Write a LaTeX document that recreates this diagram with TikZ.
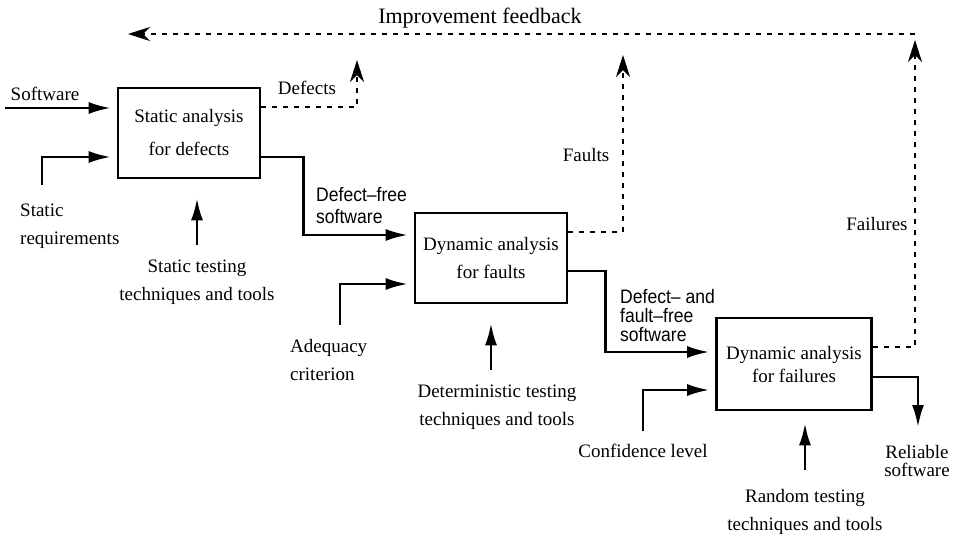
\documentclass[tikz,border=0pt]{standalone}
\usepackage{fontspec}
\setmainfont{Liberation Serif}
\newfontfamily\lblsans[FakeStretch=0.9]{Liberation Sans}
\usetikzlibrary{arrows.meta}
\tikzset{
    every node/.style={inner sep=0pt, font=\fontsize{19}{28}\selectfont}
}
\tikzset{
    proc/.style={draw, line width=2.6pt, align=center},
    lbl/.style={align=left, anchor=west},
    mid/.style={align=center},
    small/.style={font=\lblsans\fontsize{19.5}{22}\selectfont}
}
\tikzset{
    flow/.style={line width=2.6pt, -{Latex[length=22pt,width=12pt]}, shorten >=6pt},
    fb/.style={line width=2.2pt, dash pattern=on 5pt off 6pt,
        -{Stealth[length=22pt,width=14pt,inset=7pt]}}
}

\begin{document}
\begin{tikzpicture}[x=1pt, y=-1pt]
  \useasboundingbox (0,0) rectangle (959,540);
  \node (t) [font=\fontsize{22}{26}\selectfont] at (480,18) {Improvement feedback};
  \node (b1) [proc, minimum width=142pt, minimum height=90pt] at (189,133)
      {Static analysis\\[5pt]for defects};
  \node (b2) [proc, minimum width=152pt, minimum height=90pt] at (491,258)
      {Dynamic analysis\\for faults};
  \node (b3) [proc, minimum width=155pt, minimum height=92pt] at (794,364)
      {Dynamic analysis\\[-5pt]for failures};

  \node (l1) at (45,94) {Software};
  \node (l2) [lbl] at (20,226) {Static\\requirements};
  \node (l3) [mid] at (197,282) {Static testing\\techniques and tools};
  \node (l4) [lbl, small] at (316,206) {Defect\textendash free\\software};
  \node (l5) [lbl] at (290,360) {Adequacy\\criterion};
  \node (l6) [mid] at (497,407) {Deterministic testing\\techniques and tools};
  \node (l7) [lbl, font=\lblsans\fontsize{19.5}{19}\selectfont] at (620,316)
      {Defect\textendash{} and\\fault\textendash free\\software};
  \node (l8) at (643,451) {Confidence level};
  \node (l9) [mid] at (805,512) {Random testing\\techniques and tools};
  \node (l10) [mid, font=\fontsize{19}{18}\selectfont] at (917,461) {Reliable\\software};
  \node (l11) at (307,88) {Defects};
  \node (l12) at (586,155) {Faults};
  \node (l13) at (877,224) {Failures};

  \coordinate (sw) at (5,108);
  \coordinate (sr) at (42,185);
  \coordinate (st) at (197,245);
  \coordinate (aq) at (340,325);
  \coordinate (dt) at (491,370);
  \coordinate (cf) at (643,431);
  \coordinate (rt) at (805,470);
  \coordinate (rs) at (918,427);
  \coordinate (fbR) at (915,34);
  \coordinate (fbL) at (128,34);
  \coordinate (dTop) at (357,60);
  \coordinate (fTop) at (623,55);
  \coordinate (xTop) at (915,40);

  \draw[flow] (sw) -- (sw -| b1.west);
  \draw[flow] (sr) |- ([yshift=-24pt]b1.west);
  \draw[flow, shorten >=19pt] (st) -- (st |- b1.south);
  \draw[flow] ([yshift=-24pt]b1.east) -- ++(42,0) |- ([yshift=23pt]b2.west);
  \draw[flow] (aq) |- ([yshift=-26pt]b2.west);
  \draw[flow, shorten >=19pt] (dt) -- (dt |- b2.south);
  \draw[flow] ([yshift=-13pt]b2.east) -- ++(37,0) |- ([yshift=12pt]b3.west);
  \draw[flow] (cf) |- ([yshift=-26pt]b3.west);
  \draw[flow, shorten >=12pt] (rt) -- (rt |- b3.south);
  \draw[flow, shorten >=0pt] ([yshift=-13pt]b3.east) -| (rs);

  \draw[fb] (fbR) -- (fbL);
  \draw[fb] ([yshift=26pt]b1.east) -| (dTop);
  \draw[fb] ([yshift=26pt]b2.east) -| (fTop);
  \draw[fb] ([yshift=17pt]b3.east) -| (xTop);
\end{tikzpicture}
\end{document}
